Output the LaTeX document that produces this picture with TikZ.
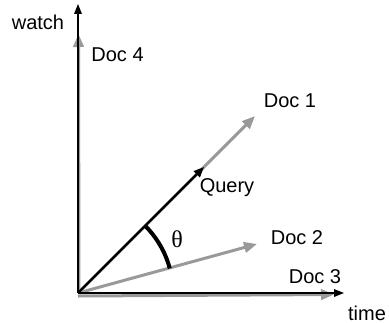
\documentclass[tikz,border=0pt]{standalone}
\usepackage{fontspec}
\setmainfont{Liberation Sans}
\newfontfamily\greekfont{Liberation Serif}
\usetikzlibrary{arrows.meta}
\definecolor{docgray}{HTML}{999999}
\definecolor{ink}{HTML}{000000}
\tikzset{
  axis/.style={
    -{Triangle[length=5pt,width=3.8pt]},
    draw=ink,
    line width=0.7pt
  },
  docvec/.style={
    -{Triangle[length=6.5pt,width=5.2pt]},
    draw=docgray,
    line width=1.5pt
  },
  queryvec/.style={
    -{Triangle[length=5.2pt,width=4.2pt]},
    draw=ink,
    line width=1.1pt
  },
  lbl/.style={
    font=\fontsize{10}{12}\selectfont,
    inner sep=1pt
  }
}
\begin{document}
\begin{tikzpicture}[x=0.5pt,y=0.5pt]
  \useasboundingbox (-78,-29) rectangle (311,293);

  \coordinate (O) at (0,0);
  \coordinate (ytip) at (0,289);
  \coordinate (xtip) at (266,0);
  \coordinate (d1) at (177,177);
  \coordinate (d2) at (179,49);
  \coordinate (d3) at (256,-1.5);
  \coordinate (d4) at (0.5,259);
  \coordinate (q) at (126,126);

  % document vectors
  \draw[docvec] ([yshift=-1.5]O) -- (d3);
  \draw[docvec] ([xshift=0.5]O) -- (d4);
  \draw[docvec] (O) -- (d1);
  \draw[docvec] (O) -- (d2);

  % axes and query
  \draw[axis] (O) -- (ytip);
  \draw[axis] (O) -- (xtip);
  \draw[queryvec] (O) -- (q);
  \draw[ink, line width=2pt] (45:95) arc[start angle=45, end angle=15, radius=95];

  \node[lbl] (watch) at (-40,271) {watch};
  \node[lbl] (time) at (289,-20) {time};
  \node[lbl, anchor=west] (doc4) at (11,238) {Doc 4};
  \node[lbl] (doc1) at (212,192) {Doc 1};
  \node[lbl] (query) at (149,105) {Query};
  \node[lbl] (doc2) at (219,55) {Doc 2};
  \node[lbl] (doc3) at (237,16) {Doc 3};
  \node[lbl, font=\greekfont\fontsize{12}{14}\selectfont] (theta) at (99,54) {θ};
\end{tikzpicture}
\end{document}
